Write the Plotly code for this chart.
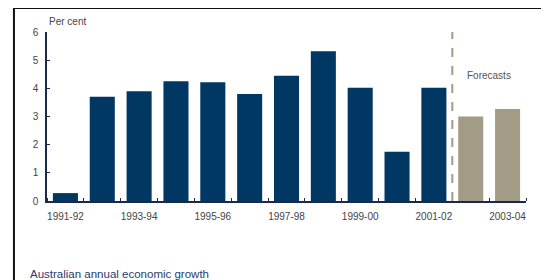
import plotly.graph_objects as go

years = ["1991-92", "1992-93", "1993-94", "1994-95", "1995-96", "1996-97", "1997-98",
         "1998-99", "1999-00", "2000-01", "2001-02", "2002-03", "2003-04"]
growth = [0.28, 3.7, 3.9, 4.25, 4.22, 3.8, 4.45, 5.32, 4.02, 1.75, 4.02, 3.0, 3.27]
is_forecast = [False] * 11 + [True] * 2
tick_labels = ["1991-92", "1993-94", "1995-96", "1997-98", "1999-00", "2001-02", "2003-04"]

NAVY = "#003763"
KHAKI = "#a29c86"
FONT = "Arial, Liberation Sans, sans-serif"

idx = list(range(len(years)))
act_x = [i for i in idx if not is_forecast[i]]
act_y = [growth[i] for i in act_x]
fc_x = [i for i in idx if is_forecast[i]]
fc_y = [growth[i] for i in fc_x]

fig = go.Figure()
fig.add_bar(x=act_x, y=act_y, marker=dict(color=NAVY, line=dict(width=0)), width=0.68,
            hovertext=[years[i] for i in act_x])
fig.add_bar(x=fc_x, y=fc_y, marker=dict(color=KHAKI, line=dict(width=0)), width=0.68,
            hovertext=[years[i] for i in fc_x])

tickvals = [years.index(t) for t in tick_labels]
boundary = fc_x[0] - 0.5

fig.add_shape(type="line", xref="x", yref="y", x0=boundary, x1=boundary, y0=0, y1=6,
              line=dict(color=KHAKI, width=2, dash="dash"))
# outer frame
fig.add_shape(type="rect", xref="paper", yref="paper", x0=-0.069, x1=1.035, y0=-0.6, y1=1.142,
              line=dict(color="#111111", width=2), fillcolor="rgba(0,0,0,0)", layer="below")

fig.add_annotation(text="Per cent", xref="paper", yref="paper", x=0.0, y=1.065,
                   xanchor="left", yanchor="middle", showarrow=False,
                   font=dict(family=FONT, size=10, color="#444444"))
fig.add_annotation(text="Forecasts", xref="x", yref="y", x=11.5, y=4.47,
                   xanchor="center", yanchor="middle", showarrow=False,
                   font=dict(family=FONT, size=10, color="#555555"))
fig.add_annotation(text="Australian annual economic growth", xref="paper", yref="paper",
                   x=-0.04, y=-0.43, xanchor="left", yanchor="middle", showarrow=False,
                   font=dict(family=FONT, size=11.5, color="#1f3c6e"))

fig.update_layout(
    width=541, height=272,
    margin=dict(l=39, r=23, t=24, b=79),
    paper_bgcolor="white", plot_bgcolor="white",
    showlegend=False, barmode="overlay",
    font=dict(family=FONT, size=10, color="#444444"),
)
fig.update_xaxes(
    range=[-0.5, len(years) - 0.5],
    tickmode="array", tickvals=tickvals, ticktext=tick_labels,
    ticks="", showgrid=False, zeroline=False, ticklabelstandoff=5,
    showline=True, linecolor="#1a2a4a", linewidth=1.5,
    minor=dict(tickmode="linear", tick0=0.5, dtick=1, ticks="inside", ticklen=3,
               tickcolor="#1a2a4a", showgrid=False),
    tickfont=dict(family=FONT, size=10, color="#444444"),
)
fig.update_yaxes(
    range=[0, 6], tickmode="linear", tick0=0, dtick=1,
    ticks="inside", ticklen=3, tickcolor="#1a2a4a", ticklabelstandoff=5,
    showgrid=False, zeroline=False,
    showline=True, linecolor="#1a2a4a", linewidth=1.5,
    tickfont=dict(family=FONT, size=10, color="#444444"),
)

fig.write_html("out.html")
